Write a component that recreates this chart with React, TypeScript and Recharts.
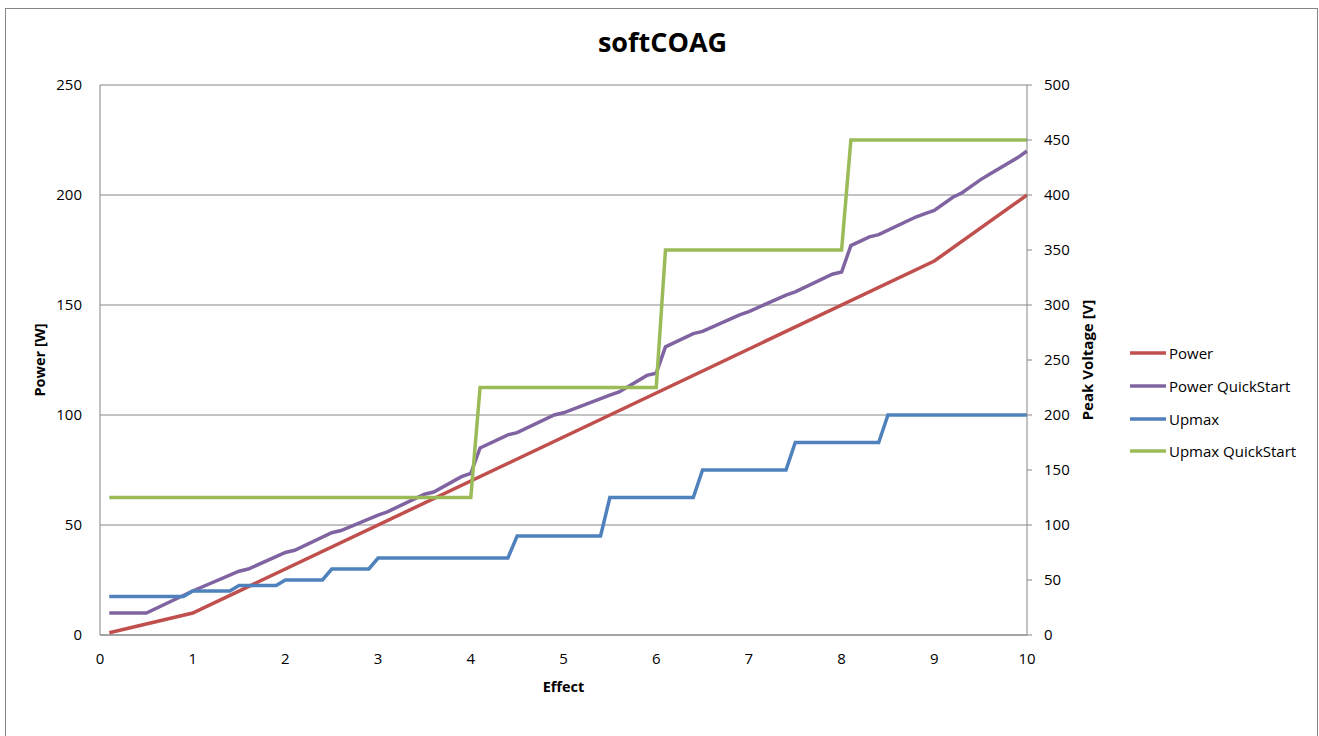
import { LineChart, Line, XAxis, YAxis, CartesianGrid, Legend } from 'recharts'

// [effect, value] vertices
const powerPoints: [number, number][] = [
  [0.1, 1], [1, 10], [9, 170], [10, 200],
]

const powerQuickStartPoints: [number, number][] = [
  [0.1, 10], [0.5, 10], [1.0, 20], [1.5, 29], [1.6, 30], [2.0, 37.5], [2.1, 38.5],
  [2.5, 46.5], [2.6, 47.5], [3.0, 54.5], [3.1, 56], [3.5, 64], [3.6, 65], [3.9, 72],
  [4.0, 73.5], [4.1, 85], [4.4, 91], [4.5, 92], [4.9, 100], [5.0, 101], [5.5, 109],
  [5.6, 110.5], [5.9, 118], [6.0, 119], [6.1, 131], [6.4, 137], [6.5, 138], [6.9, 145.5],
  [7.0, 147], [7.4, 154.5], [7.5, 156], [7.9, 164], [8.0, 165], [8.1, 177], [8.3, 181],
  [8.4, 182], [8.8, 190], [8.9, 191.5], [9.0, 193], [9.2, 199], [9.3, 201], [9.5, 207],
  [9.6, 209.5], [9.9, 217], [10, 220],
]

const upmaxPoints: [number, number][] = [
  [0.1, 35], [0.9, 35], [1.0, 40], [1.4, 40], [1.5, 45], [1.9, 45], [2.0, 50], [2.4, 50],
  [2.5, 60], [2.9, 60], [3.0, 70], [4.4, 70], [4.5, 90], [5.4, 90], [5.5, 125], [6.4, 125],
  [6.5, 150], [7.4, 150], [7.5, 175], [8.4, 175], [8.5, 200], [10, 200],
]

const upmaxQuickStartPoints: [number, number][] = [
  [0.1, 125], [4.0, 125], [4.1, 225], [6.0, 225], [6.1, 350], [8.0, 350], [8.1, 450], [10, 450],
]

const xTicks = [0, 1, 2, 3, 4, 5, 6, 7, 8, 9, 10]
const powerTicks = [0, 50, 100, 150, 200, 250]
const voltageTicks = [0, 50, 100, 150, 200, 250, 300, 350, 400, 450, 500]

const series = [
  { name: 'Power', color: '#C0504D', axis: 'left', points: powerPoints },
  { name: 'Power QuickStart', color: '#8064A2', axis: 'left', points: powerQuickStartPoints },
  { name: 'Upmax', color: '#4F81BD', axis: 'right', points: upmaxPoints },
  { name: 'Upmax QuickStart', color: '#9BBB59', axis: 'right', points: upmaxQuickStartPoints },
]

const FONT = '"Open Sans", "Noto Sans", sans-serif'
const GRAY = '#868686'

const toRows = (pts: [number, number][]) => pts.map(([x, y]) => ({ x, y }))

function LegendBox() {
  return (
    <div style={{ fontFamily: FONT, fontSize: 15, color: '#000' }}>
      {series.map((s) => (
        <div key={s.name} style={{ display: 'flex', alignItems: 'center', height: 32.7 }}>
          <svg width={37} height={6} style={{ marginRight: 2 }}>
            <line x1={0} y1={3} x2={36} y2={3} stroke={s.color} strokeWidth={3.5} />
          </svg>
          <span>{s.name}</span>
        </div>
      ))}
    </div>
  )
}

export default function App() {
  return (
    <div style={{ position: 'absolute', left: 0, top: 0, width: 1319, height: 736, background: '#fff', overflow: 'hidden' }}>
      <div style={{ position: 'absolute', left: 5, top: 8, width: 1313, height: 740, border: `1px solid ${GRAY}`, boxSizing: 'border-box' }} />
      <div style={{ position: 'absolute', left: 0, top: 23, width: 1325, textAlign: 'center', fontFamily: FONT, fontWeight: 700, fontSize: 27 }}>
        softCOAG
      </div>
      <div style={{ position: 'absolute', left: 0, top: 0 }}>
        <LineChart width={1319} height={736} margin={{ top: 85, right: 212, bottom: 61, left: 40 }}>
          <CartesianGrid yAxisId="left" vertical={false} horizontal stroke={GRAY} strokeWidth={1} />
          <XAxis
            dataKey="x"
            type="number"
            domain={[0, 10]}
            ticks={xTicks}
            allowDuplicatedCategory={false}
            tickLine={false}
            tickSize={0}
            tickMargin={18}
            height={40}
            stroke={GRAY}
            tick={{ fill: '#000', fontSize: 15, fontFamily: FONT }}
            label={{
              content: ({ viewBox }: any) => (
                <text x={viewBox.x + viewBox.width / 2} y={692} textAnchor="middle" fontFamily={FONT} fontSize={14.5} fontWeight={700} fill="#000">
                  Effect
                </text>
              ),
            }}
          />
          <YAxis
            yAxisId="left"
            orientation="left"
            domain={[0, 250]}
            ticks={powerTicks}
            width={60}
            tickLine={false}
            tickSize={0}
            tickMargin={18}
            stroke={GRAY}
            tick={{ fill: '#000', fontSize: 15, fontFamily: FONT }}
            label={{
              content: ({ viewBox }: any) => {
                const cy = viewBox.y + viewBox.height / 2
                return (
                  <text x={45} y={cy} transform={`rotate(-90, 45, ${cy})`} textAnchor="middle" fontFamily={FONT} fontSize={14.5} fontWeight={700} fill="#000">
                    Power [W]
                  </text>
                )
              },
            }}
          />
          <YAxis
            yAxisId="right"
            orientation="right"
            domain={[0, 500]}
            ticks={voltageTicks}
            width={80}
            tickSize={5}
            tickMargin={12}
            stroke={GRAY}
            tickLine={{ stroke: GRAY }}
            tick={{ fill: '#000', fontSize: 15, fontFamily: FONT }}
            label={{
              content: ({ viewBox }: any) => {
                const cy = viewBox.y + viewBox.height / 2
                return (
                  <text x={1093} y={cy} transform={`rotate(-90, 1093, ${cy})`} textAnchor="middle" fontFamily={FONT} fontSize={15} fontWeight={700} fill="#000">
                    Peak Voltage [V]
                  </text>
                )
              },
            }}
          />
          <Legend
            layout="vertical"
            align="center"
            verticalAlign="middle"
            content={() => <LegendBox />}
            wrapperStyle={{ left: 1130, top: 337, right: 'auto', bottom: 'auto', width: 180 }}
          />
          {series.map((s) => (
            <Line
              key={s.name}
              name={s.name}
              data={toRows(s.points)}
              dataKey="y"
              yAxisId={s.axis}
              type="linear"
              stroke={s.color}
              strokeWidth={3.5}
              dot={false}
              activeDot={false}
              isAnimationActive={false}
            />
          ))}
        </LineChart>
      </div>
    </div>
  )
}
